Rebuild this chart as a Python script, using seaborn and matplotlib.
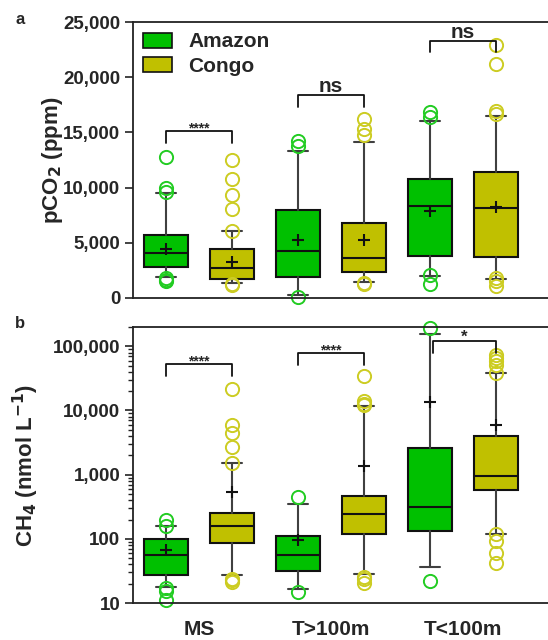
import numpy as np
import seaborn as sns
import matplotlib.pyplot as plt
from matplotlib.patches import Patch
from matplotlib.ticker import FuncFormatter, LogLocator, NullFormatter, FixedLocator

sns.set_style("ticks")
plt.rcParams["font.family"] = ["Liberation Sans", "DejaVu Sans"]
plt.rcParams["font.weight"] = "bold"

groups = ["MS", "T>100m", "T<100m"]
rivers = ["Amazon", "Congo"]
river_fill = ["#00c000", "#c0c000"]
river_edge = ["#22cc22", "#cccc22"]

# box order: MS Amazon, MS Congo, T>100m Amazon, T>100m Congo, T<100m Amazon, T<100m Congo
# pCO2 (ppm)
co2_whislo = [1930, 1330, 300, 1480, 1990, 1750]
co2_q1 = [2840, 1750, 1930, 2330, 3800, 3740]
co2_med = [4050, 2690, 4230, 3650, 8360, 8120]
co2_q3 = [5710, 4470, 7970, 6820, 10780, 11440]
co2_whishi = [9480, 6100, 13300, 14100, 16060, 16490]
co2_mean = [4440, 3290, 5280, 5220, 7910, 8210]
co2_fliers = [
    [12740, 9990, 9600, 1800, 1600, 1500],
    [12500, 10750, 9360, 8090, 6100, 1250, 1180],
    [14250, 13800, 50],
    [16250, 15280, 14760, 1400, 1250],
    [16880, 16400, 2100, 1240],
    [22880, 21200, 16900, 16700, 1800, 1500, 1050],
]

# CH4 (nmol/L)
ch4_whislo = [18, 27, 16.8, 28.4, 36, 121]
ch4_q1 = [27, 86, 31, 120, 133, 575]
ch4_med = [55, 161, 56, 248, 316, 950]
ch4_q3 = [101, 251, 111, 464, 2560, 4050]
ch4_whishi = [156, 1496, 348, 11600, 154000, 37900]
ch4_mean = [67, 535, 96, 1376, 13600, 5940]
ch4_fliers = [
    [198, 160, 17, 15.5, 11.2],
    [21600, 6000, 4460, 2690, 1500, 24, 22.5, 21.6],
    [441, 14.9],
    [34900, 13900, 12800, 12000, 25.7, 24, 20.8],
    [194000, 22],
    [74000, 65800, 58300, 51800, 37900, 119, 91, 60, 41.7],
]

# significance brackets: (left box, right box, leg bottom, top, label, fontsize)
co2_sig = [(0, 1, 14000, 15100, "****", 10), (2, 3, 17300, 18400, "ns", 15), (4, 5, 22300, 23300, "ns", 15)]
ch4_sig = [(0, 1, 34000, 52500, "****", 10), (2, 3, 50600, 78700, "****", 10), (4.05, 5, 78700, 122700, "*", 12)]


def draw_boxes(ax, whislo, q1, med, q3, whishi, mean, fliers):
    for r in range(2):
        idx = list(range(r, 6, 2))
        stats = []
        for i in idx:
            stats.append(dict(whislo=whislo[i], q1=q1[i], med=med[i], q3=q3[i],
                              whishi=whishi[i], mean=mean[i], fliers=fliers[i]))
        res = ax.bxp(stats, positions=idx, widths=0.68, patch_artist=True, showmeans=True,
                     boxprops=dict(facecolor=river_fill[r], edgecolor="#111111", linewidth=1.5),
                     medianprops=dict(color="#111111", linewidth=1.5),
                     whiskerprops=dict(color="#404040", linewidth=1.5),
                     capprops=dict(color="#404040", linewidth=1.5),
                     capwidths=0.3,
                     meanprops=dict(marker="+", markeredgecolor="#111111", markersize=9, markeredgewidth=1.5),
                     flierprops=dict(marker="o", markerfacecolor="none", markeredgecolor=river_edge[r],
                                     markersize=9.5, markeredgewidth=1.4),
                     manage_ticks=False)
        for key in res:
            for art in res[key]:
                art.set_clip_on(False)


def draw_sig(ax, sig):
    for x1, x2, y_leg, y_top, label, fs in sig:
        ax.plot([x1, x1, x2, x2], [y_leg, y_top, y_top, y_leg], color="#111111", lw=1.3)
        ax.annotate(label, xy=((x1 + x2) / 2, y_top), xytext=(0, 2 if fs > 12 else -1),
                    textcoords="offset points", ha="center", va="baseline",
                    fontsize=fs, fontweight="bold")


fig = plt.figure(figsize=(5.48, 6.4), dpi=100)
ax_a = fig.add_axes([133 / 548, 1 - 298 / 640, 415 / 548, 276 / 640])
ax_b = fig.add_axes([133 / 548, 1 - 603 / 640, 415 / 548, 276 / 640])

xmax = -0.5 + 415 / 66

# panel a
draw_boxes(ax_a, co2_whislo, co2_q1, co2_med, co2_q3, co2_whishi, co2_mean, co2_fliers)
draw_sig(ax_a, co2_sig)
ax_a.set_ylim(0, 25000)
ax_a.set_xlim(-0.5, xmax)
ax_a.set_yticks([0, 5000, 10000, 15000, 20000, 25000])
ax_a.yaxis.set_major_formatter(FuncFormatter(lambda v, p: f"{int(v):,}"))
ax_a.set_xticks([])
ax_a.set_ylabel("pCO$_\\mathbf{2}$ (ppm)", fontsize=16, fontweight="bold")
ax_a.yaxis.set_label_coords(-0.163, 0.5)
ax_a.legend(handles=[Patch(facecolor=river_fill[i], edgecolor="#111111", linewidth=1.2, label=rivers[i])
                     for i in range(2)],
            loc="upper left", bbox_to_anchor=(0.0, 1.0), frameon=False,
            prop=dict(size=15, weight="bold"), handlelength=1.35, handleheight=0.72,
            handletextpad=0.8, labelspacing=0.25, borderpad=0.0, borderaxespad=0.5)

# panel b
draw_boxes(ax_b, ch4_whislo, ch4_q1, ch4_med, ch4_q3, ch4_whishi, ch4_mean, ch4_fliers)
draw_sig(ax_b, ch4_sig)
ax_b.set_yscale("log")
ax_b.set_ylim(10, 200000)
ax_b.set_xlim(-0.5, xmax)
ax_b.yaxis.set_major_locator(FixedLocator([10, 100, 1000, 10000, 100000]))
ax_b.yaxis.set_major_formatter(FuncFormatter(lambda v, p: f"{int(round(v)):,}"))
ax_b.yaxis.set_minor_locator(LogLocator(base=10, subs=np.arange(2, 10)))
ax_b.yaxis.set_minor_formatter(NullFormatter())
ax_b.set_xticks([0.5, 2.5, 4.5])
ax_b.set_xticklabels(groups, fontsize=15, fontweight="bold")
ax_b.tick_params(axis="x", length=0, pad=12)
ax_b.set_ylabel("CH$_\\mathbf{4}$ (nmol L$^\\mathbf{-1}$)", fontsize=16, fontweight="bold")
ax_b.yaxis.set_label_coords(-0.222, 0.5)

for ax in (ax_a, ax_b):
    sns.despine(ax=ax, right=True, top=False)
    for s in ("left", "bottom", "top"):
        ax.spines[s].set_linewidth(1.3)
        ax.spines[s].set_color("#222222")
    ax.tick_params(axis="y", which="major", length=6, width=1.2, labelsize=13.5, pad=3, color="#222222")
    ax.tick_params(axis="y", which="minor", length=3.5, width=1.0, color="#222222")
    for t in ax.get_yticklabels():
        t.set_fontweight("bold")

fig.text(15 / 548, 1 - 20 / 640, "a", fontsize=12, fontweight="bold", va="center")
fig.text(15 / 548, 1 - 323 / 640, "b", fontsize=12, fontweight="bold", va="center")

fig.savefig("out.png", dpi=100)
